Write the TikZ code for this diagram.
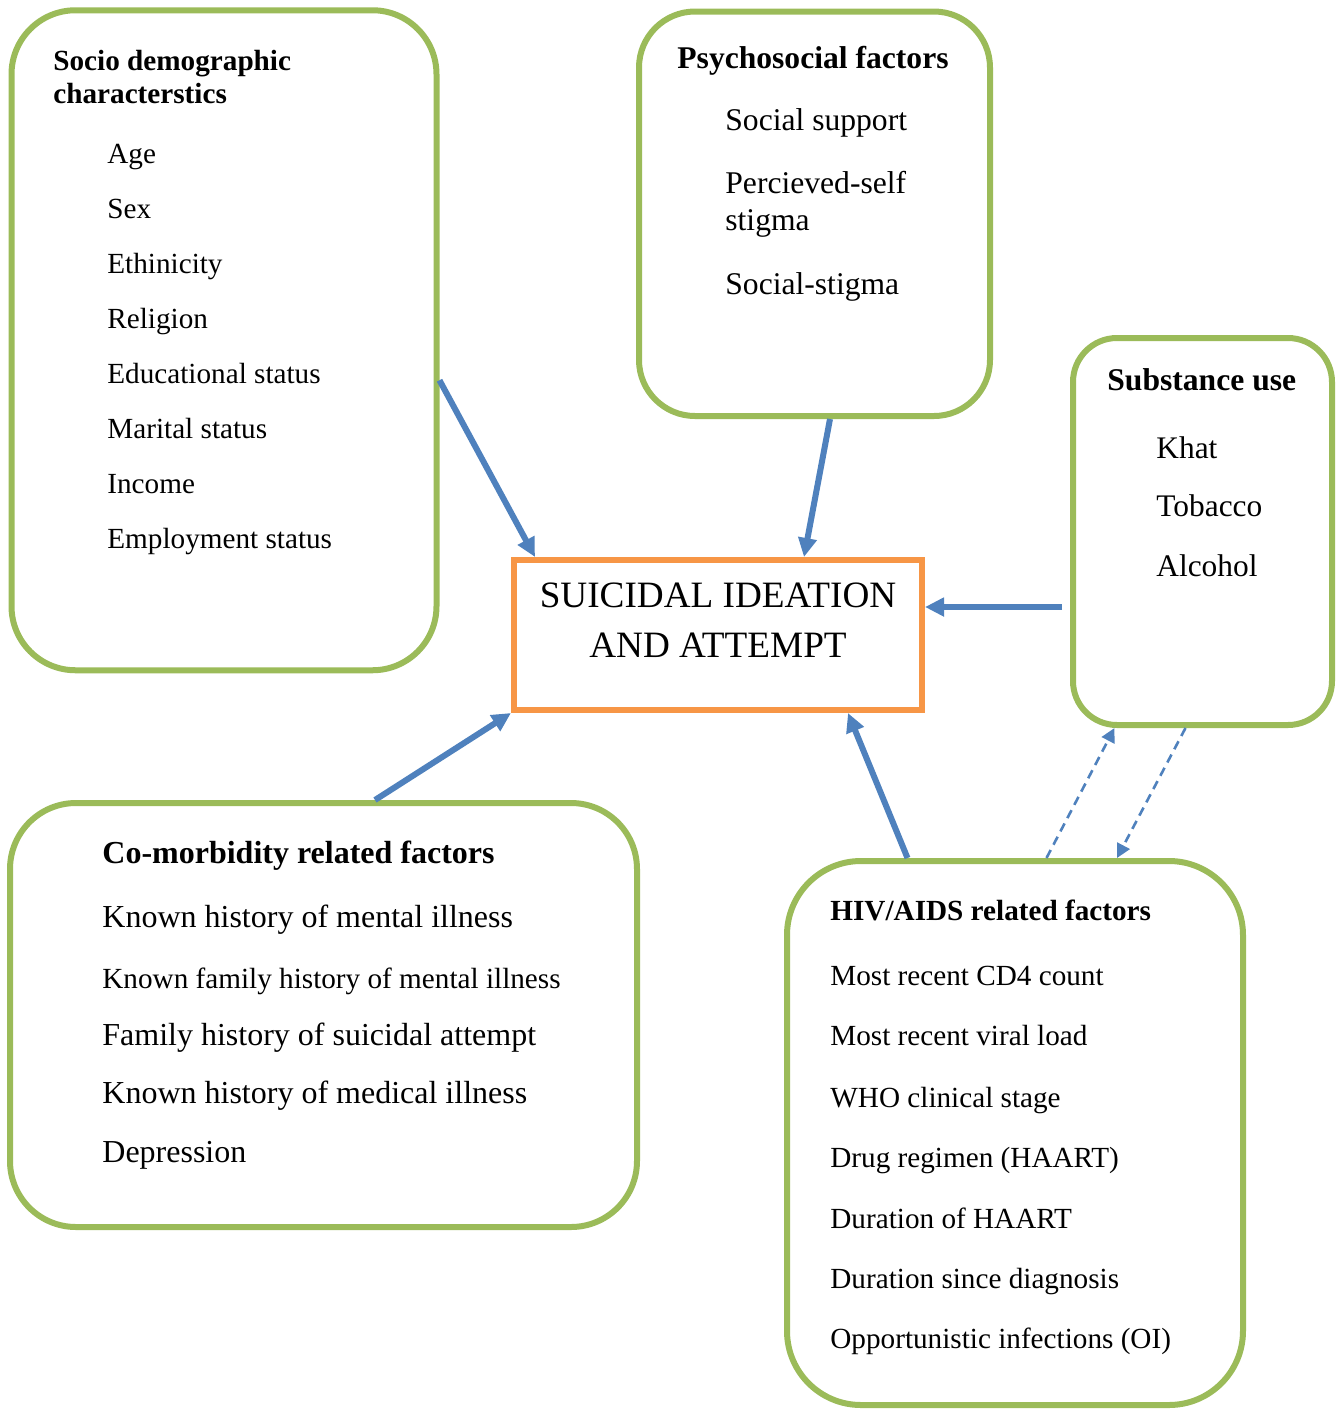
\documentclass[tikz,border=0pt]{standalone}
\usepackage{fontspec}
\setmainfont{Liberation Serif}
\usetikzlibrary{arrows.meta}
\definecolor{boxgreen}{HTML}{9BBB59}
\definecolor{outcome}{HTML}{F79646}
\definecolor{linkblue}{HTML}{4F81BD}

\begin{document}
\begin{tikzpicture}[x=0.5pt,y=-0.5pt,
    factor/.style={rectangle,draw=boxgreen,line width=3pt,rounded corners=#1},
    item/.style={anchor=base west,inner sep=0pt,font=\fontsize{#1}{#1}\selectfont},
    head/.style={anchor=base west,inner sep=0pt,font=\fontsize{#1}{#1}\selectfont\bfseries},
    link/.style={-{Triangle[length=9.5pt,width=9pt]},draw=linkblue,line width=3pt},
    feedback/.style={-{Triangle[length=7pt,width=7pt]},draw=linkblue,line width=1.3pt,dash pattern=on 4.5pt off 3pt}]
\useasboundingbox (0,0) rectangle (1336,1410);

% boxes
\node[factor=32pt,minimum width=212.5pt,minimum height=330pt] (socio) at (224,340.25){};
\node[factor=28pt,minimum width=175.5pt,minimum height=202.25pt] (psych) at (814.5,213.75){};
\node[factor=22pt,minimum width=129.5pt,minimum height=193.5pt] (subst) at (1202.5,531.5){};
\node[factor=33pt,minimum width=313.5pt,minimum height=212pt] (comorb) at (323.5,1015){};
\node[factor=37pt,minimum width=228pt,minimum height=272pt] (hiv) at (1015,1133){};
\node[rectangle,draw=outcome,line width=3pt,minimum width=204pt,minimum height=75pt] (central) at (718,635){};

% outcome
\node[anchor=base,inner sep=0pt,font=\fontsize{18.6}{18.6}\selectfont] (out1) at (718,607){SUICIDAL IDEATION};
\node[anchor=base,inner sep=0pt,font=\fontsize{18.6}{18.6}\selectfont] (out2) at (718,657){AND ATTEMPT};

% socio demographic
\node[head=14.6] (sdh1) at (53,70){Socio demographic};
\node[head=14.6] (sdh2) at (53,103){characterstics};
\node[item=14.6] (age) at (107,163){Age};
\node[item=14.6] (sex) at (107,218){Sex};
\node[item=14.6] (eth) at (107,273){Ethinicity};
\node[item=14.6] (rel) at (107,328){Religion};
\node[item=14.6] (edu) at (107,383){Educational status};
\node[item=14.6] (mar) at (107,438){Marital status};
\node[item=14.6] (inc) at (107,493){Income};
\node[item=14.6] (emp) at (107,548){Employment status};

% psychosocial
\node[head=15.8] (psh) at (677,68){Psychosocial factors};
\node[item=15.8] (sup) at (725,130){Social support};
\node[item=15.8] (ps1) at (725,193){Percieved-self};
\node[item=15.8] (ps2) at (725,230){stigma};
\node[item=15.8] (sst) at (725,294){Social-stigma};

% substance use
\node[head=15.8] (suh) at (1107,390){Substance use};
\node[item=15.7] (khat) at (1156,458){Khat};
\node[item=15.7] (tob) at (1156,516){Tobacco};
\node[item=15.7] (alc) at (1156,576){Alcohol};

% co-morbidity
\node[head=16] (cmh) at (102,863){Co-morbidity related factors};
\node[item=16] (kmi) at (102,927){Known history of mental illness};
\node[item=14.6] (kfm) at (102,988){Known family history of mental illness};
\node[item=16] (fsa) at (102,1045){Family history of suicidal attempt};
\node[item=16] (kmd) at (102,1103){Known history of medical illness};
\node[item=16] (dep) at (102,1162){Depression};

% hiv/aids
\node[head=14.6] (hvh) at (830,920){HIV/AIDS related factors};
\node[item=14.6] (cd4) at (830,985){Most recent CD4 count};
\node[item=14.6] (vl) at (830,1045){Most recent viral load};
\node[item=14.6] (who) at (830,1107){WHO clinical stage};
\node[item=14.6] (drg) at (830,1167){Drug regimen (HAART)};
\node[item=14.6] (dur) at (830,1228){Duration of HAART};
\node[item=14.6] (dsd) at (830,1288){Duration since diagnosis};
\node[item=14.6] (oi) at (830,1348){Opportunistic infections (OI)};

% links
\draw[link] ([yshift=-20pt]socio.east) -- ([xshift=12pt]central.north west);
\draw[link] ([xshift=7.75pt]psych.south) -- ([xshift=43pt]central.north);
\draw[link] ([xshift=-4pt,yshift=-37.75pt]subst.west) -- ([yshift=14pt]central.east);
\draw[link] ([xshift=25.75pt]comorb.north) -- (central.south west);
\draw[link] ([xshift=-53.75pt]hiv.north) -- ([xshift=65pt]central.south);
\draw[feedback] ([xshift=15.75pt]hiv.north) -- ([xshift=-44pt]subst.south);
\draw[feedback] ([xshift=-8.5pt]subst.south) -- ([xshift=51pt]hiv.north);
\end{tikzpicture}
\end{document}
